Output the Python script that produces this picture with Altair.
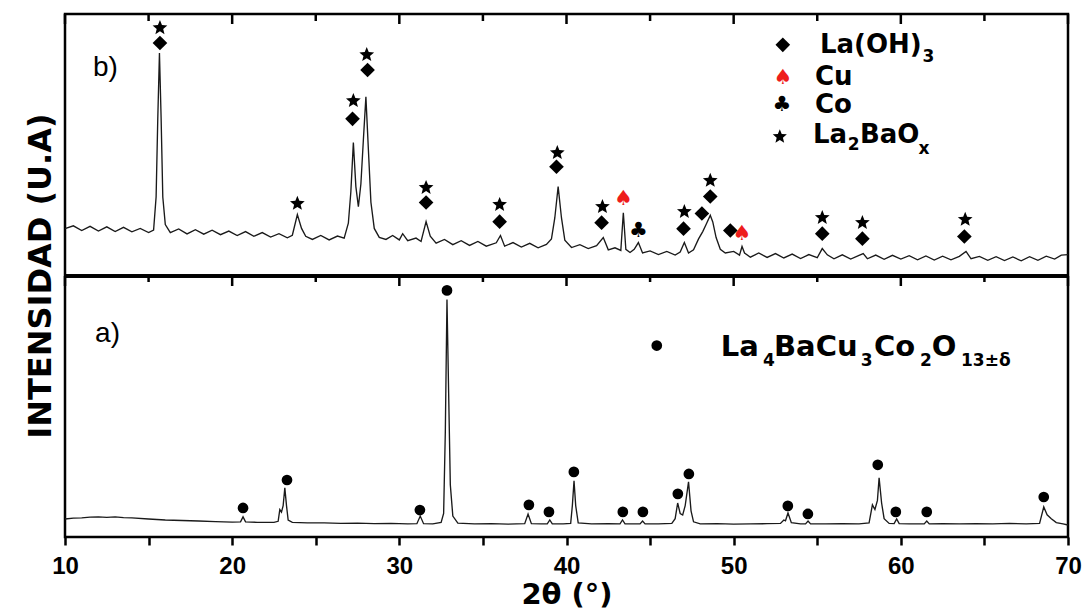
import altair as alt
import pandas as pd

# ---------------- data ----------------
# panel b) trace: 2theta (deg) and intensity (a.u., 0-100 inside panel b)
b_theta = [10.0, 10.5, 11.0, 11.5, 12.0, 12.5, 13.0, 13.5, 14.0, 14.5, 15.0, 15.3, 15.45, 15.55, 15.65,
           15.75, 15.85, 16.0, 16.3, 16.8, 17.3, 17.8, 18.3, 18.8, 19.3, 19.8, 20.3, 20.8, 21.3, 21.8,
           22.3, 22.8, 23.3, 23.6, 23.9, 24.15, 24.4, 24.8, 25.3, 25.8, 26.3, 26.7, 26.95, 27.1, 27.25,
           27.4, 27.55, 27.7, 27.85, 28.0, 28.15, 28.3, 28.5, 28.8, 29.2, 29.6, 30.0, 30.2, 30.5, 31.0,
           31.3, 31.6, 31.85, 32.2, 32.7, 33.2, 33.7, 34.2, 34.7, 35.2, 35.8, 36.05, 36.3, 36.8, 37.3,
           37.8, 38.3, 38.8, 39.1, 39.3, 39.5, 39.7, 39.9, 40.3, 40.8, 41.3, 41.8, 42.2, 42.5, 42.9,
           43.25, 43.4, 43.55, 43.8, 44.05, 44.3, 44.55, 45.0, 45.5, 46.0, 46.5, 46.8, 47.05, 47.3, 47.6,
           47.9, 48.15, 48.35, 48.6, 48.75, 48.95, 49.2, 49.5, 50.0, 50.35, 50.5, 50.65, 51.0, 51.5, 52.0,
           52.5, 53.0, 53.5, 54.0, 54.5, 55.0, 55.3, 55.6, 56.0, 56.5, 57.0, 57.5, 57.75, 58.0, 58.5,
           59.0, 59.5, 60.0, 60.5, 61.0, 61.5, 62.0, 62.5, 63.0, 63.5, 63.9, 64.2, 64.7, 65.2, 65.7,
           66.2, 66.7, 67.2, 67.7, 68.2, 68.7, 69.2, 69.6, 70.0]
b_int = [17.9, 19.0, 17.2, 18.8, 17.0, 18.6, 16.8, 18.4, 16.7, 18.0, 16.4, 17.4, 30.0, 60.0, 85.1,
         60.0, 30.0, 19.5, 16.4, 17.8, 15.9, 17.5, 15.8, 17.3, 15.6, 17.0, 15.3, 16.8, 15.0, 16.4,
         14.7, 16.0, 14.4, 15.4, 23.3, 18.0, 15.0, 13.8, 15.3, 13.6, 15.1, 14.3, 20.0, 32.0, 50.8,
         34.0, 26.3, 35.0, 52.0, 68.3, 48.0, 28.0, 18.0, 14.6, 13.8, 15.3, 13.6, 16.0, 13.3, 14.3,
         13.0, 20.6, 15.0, 12.4, 13.8, 11.8, 13.3, 11.5, 13.0, 11.2, 12.5, 15.3, 11.2, 12.6, 10.9,
         12.3, 10.6, 11.9, 14.0, 22.0, 34.0, 22.0, 13.5, 10.7, 11.8, 10.3, 11.4, 14.5, 9.8, 10.6,
         9.6, 24.0, 10.0, 8.8, 10.0, 12.6, 8.6, 9.4, 8.0, 9.2, 7.8, 9.0, 12.6, 8.6, 9.8,
         14.0, 16.8, 19.5, 23.0, 20.5, 14.5, 10.0, 8.6, 9.2, 7.8, 11.1, 8.6, 7.0, 8.6, 6.9,
         8.4, 6.7, 8.2, 6.5, 8.0, 6.8, 10.3, 7.9, 6.4, 7.9, 6.3, 7.7, 8.4, 6.4, 7.8,
         6.2, 7.7, 6.3, 7.6, 6.0, 7.5, 5.9, 7.4, 6.0, 7.3, 9.2, 6.4, 7.3, 5.8, 7.2,
         5.7, 7.1, 5.6, 7.2, 5.8, 7.4, 6.3, 7.8, 8.0]

# panel a) trace: 2theta (deg) and intensity (a.u., 0-100 inside panel a)
a_theta = [10.0, 10.5, 11.0, 11.5, 12.0, 12.5, 13.0, 13.5, 14.0, 15.0, 16.0, 17.0, 18.0, 19.0, 20.0,
           20.5, 20.65, 20.8, 21.5, 22.5, 22.75, 22.85, 22.95, 23.05, 23.15, 23.25, 23.35, 23.6, 24.5, 25.5,
           26.5, 27.5, 28.5, 29.5, 30.5, 31.05, 31.25, 31.45, 32.0, 32.5, 32.65, 32.75, 32.85, 32.95, 33.05,
           33.2, 33.5, 34.5, 35.5, 36.5, 37.5, 37.7, 37.9, 38.5, 38.85, 39.0, 39.15, 39.8, 40.25, 40.35,
           40.45, 40.55, 40.7, 41.5, 42.5, 43.2, 43.35, 43.5, 44.4, 44.55, 44.7, 45.5, 46.3, 46.5, 46.65,
           46.8, 46.95, 47.1, 47.3, 47.45, 47.6, 48.0, 49.0, 50.0, 51.0, 52.0, 52.8, 53.0, 53.1, 53.25,
           53.45, 54.0, 54.3, 54.45, 54.6, 55.5, 56.5, 57.5, 58.1, 58.3, 58.45, 58.6, 58.7, 58.85, 59.0,
           59.3, 59.6, 59.75, 59.9, 60.5, 61.4, 61.55, 61.7, 62.5, 63.5, 64.5, 65.5, 66.5, 67.5, 68.3,
           68.55, 68.75, 69.0, 69.3, 69.7, 70.0]
a_int = [6.9, 7.2, 7.3, 7.6, 7.7, 7.5, 7.7, 7.4, 7.3, 6.9, 6.5, 6.3, 6.1, 5.9, 5.7,
         5.8, 7.7, 5.8, 5.6, 5.6, 6.0, 10.5, 9.5, 12.0, 18.8, 12.0, 6.5, 5.6, 5.4, 5.4,
         5.2, 5.3, 5.1, 5.2, 5.0, 5.1, 8.0, 5.1, 5.0, 5.6, 9.0, 40.0, 90.8, 55.0, 20.0,
         8.0, 5.3, 5.0, 5.1, 4.9, 5.1, 8.8, 5.1, 5.0, 5.0, 6.5, 5.0, 5.0, 5.2, 12.0,
         21.5, 12.0, 5.4, 5.0, 5.1, 5.0, 6.5, 5.0, 5.0, 6.1, 5.0, 5.0, 5.2, 7.0, 13.0,
         9.0, 8.4, 12.0, 21.1, 10.0, 5.8, 5.0, 5.1, 4.9, 5.0, 5.1, 5.2, 6.5, 6.2, 9.2,
         5.5, 5.0, 5.0, 6.1, 5.0, 5.0, 5.1, 5.0, 5.4, 12.3, 10.5, 14.0, 22.6, 13.0, 7.0,
         5.2, 5.1, 6.9, 5.1, 5.0, 5.0, 6.1, 5.0, 5.1, 5.0, 5.1, 5.0, 5.2, 5.0, 5.2,
         11.5, 8.5, 7.0, 5.5, 5.0, 4.6]

# phase markers, panel a) (La4BaCu3Co2O13+-d, dots)
dot_theta = [20.65, 23.28, 31.23, 32.85, 37.75, 38.95, 40.44, 43.37, 44.57, 46.66, 47.32, 53.24,
             54.44, 58.62, 59.70, 61.55, 68.55]
dot_int = [11.1, 21.8, 10.3, 94.3, 12.3, 9.6, 24.9, 9.6, 9.6, 16.5, 24.1, 11.9,
           8.8, 27.6, 9.6, 9.6, 15.3]

# phase markers, panel b)
star_theta = [15.68, 23.9, 27.25, 28.05, 31.6, 36.0, 39.45, 42.15, 47.05, 48.6, 55.3, 57.7, 63.85]
star_int = [94.7, 27.5, 66.8, 84.4, 33.6, 27.1, 46.9, 26.3, 24.4, 36.3, 22.1, 20.2, 21.4]
diam_theta = [15.68, 27.2, 28.1, 31.6, 36.0, 39.4, 42.1, 47.0, 48.1, 48.6, 49.8, 55.3, 57.7, 63.8]
diam_int = [88.9, 59.9, 78.6, 27.9, 20.6, 41.6, 20.2, 17.9, 23.7, 30.2, 17.2, 16.0, 14.1, 14.9]
cu_theta = [43.4, 50.5]
cu_int = [29.4, 16.0]
co_theta = [44.3]
co_int = [17.2]

# legend of panel b): symbols (diamond, Cu, Co, star) and text segments
legb_sym_theta = [52.94, 52.94, 52.88, 52.76]
legb_sym_int = [88.2, 75.6, 65.3, 53.1]
legb_txt = ["La(OH)", "3", "Cu", "Co", "La", "2", "BaO", "x"]
legb_txt_theta = [55.16, 61.3, 54.86, 54.86, 54.74, 56.83, 57.55, 61.05]
legb_txt_int = [88.2, 83.6, 76.0, 65.3, 53.8, 50.0, 53.8, 48.5]
legb_txt_sub = [0, 1, 0, 0, 0, 1, 0, 1]

# legend of panel a)
lega_sym_theta = [45.4]
lega_sym_int = [73.2]
lega_txt = ["La", "4", "BaCu", "3", "Co", "2", "O", "13±δ"]
lega_txt_theta = [49.23, 51.75, 52.41, 57.6, 58.39, 61.15, 61.85, 63.6]
lega_txt_int = [72.8, 67.4, 72.8, 67.4, 72.8, 67.4, 72.8, 67.4]
lega_txt_sub = [0, 1, 0, 1, 0, 1, 0, 1]

panel_labels = ["b)", "a)"]
panel_label_theta = [11.67, 11.8]
panel_label_int = [79.4, 77.8]
panel_label_panel = ["b", "a"]

x_ticks = [10, 15, 20, 25, 30, 35, 40, 45, 50, 55, 60, 65, 70]

# ---------------- one long table ----------------
rows = []
def add(kind, panel, ts, ys, txts=None, subs=None):
    for k, (t, v) in enumerate(zip(ts, ys)):
        rows.append({"kind": kind, "panel": panel, "t": t, "i": v,
                     "txt": txts[k] if txts else "", "sub": subs[k] if subs else 0})

add("trace", "b", b_theta, b_int)
add("trace", "a", a_theta, a_int)
add("dot", "a", dot_theta + lega_sym_theta, dot_int + lega_sym_int)
add("star", "b", star_theta, star_int)
add("diamond", "b", diam_theta, diam_int)
add("cu", "b", cu_theta, cu_int)
add("co", "b", co_theta, co_int)
add("ldiamond", "b", [legb_sym_theta[0]], [legb_sym_int[0]])
add("cu", "b", [legb_sym_theta[1]], [legb_sym_int[1]])
add("co", "b", [legb_sym_theta[2]], [legb_sym_int[2]])
add("lstar", "b", [legb_sym_theta[3]], [legb_sym_int[3]])
add("text", "b", legb_txt_theta, legb_txt_int, legb_txt, legb_txt_sub)
add("text", "a", lega_txt_theta, lega_txt_int, lega_txt, lega_txt_sub)
add("plabel", panel_label_panel[0], [panel_label_theta[0]], [panel_label_int[0]], [panel_labels[0]])
add("plabel", panel_label_panel[1], [panel_label_theta[1]], [panel_label_int[1]], [panel_labels[1]])
for v in x_ticks:
    rows.append({"kind": "tick", "panel": "a", "t": v, "i": 0, "txt": "", "sub": 0})
df = pd.DataFrame(rows)

# ---------------- chart ----------------
W, H = 1003, 523
DIV = 262  # pixel row of the divider between the panels
STAR = ("M0,-1L0.26,-0.36L0.951,-0.309L0.42,0.14L0.588,0.809L0,0.44L-0.588,0.809"
        "L-0.42,0.14L-0.951,-0.309L-0.26,-0.36Z")

xs = alt.Scale(domain=[10, 70], nice=False, zero=False)
ys = alt.Scale(domain=[0, 200], nice=False, zero=False)

xaxis = alt.Axis(
    orient="bottom",
    values=x_ticks,
    labelExpr="datum.value % 10 == 0 ? datum.label : ''",
    ticks=True, tickSize=8, tickWidth=2.5, tickColor="black",
    domain=False, grid=False,
    labelFont="Liberation Sans", labelFontSize=24, labelFontWeight="bold", labelColor="black",
    labelPadding=9, labelFlush=False,
    title="2θ (°)", titleFont="DejaVu Sans", titleFontSize=29, titleFontWeight="bold",
    titleColor="black", titlePadding=2,
)
yaxis = alt.Axis(
    orient="left",
    domain=False, ticks=False, labels=False, grid=False,
    title="INTENSIDAD (U.A)", titleFont="DejaVu Sans", titleFontSize=32, titleFontWeight="bold",
    titleColor="black", titlePadding=8,
)

base = alt.Chart(df).transform_calculate(
    y="datum.panel == 'b' ? datum.i + 100 : datum.i"
)
X = alt.X("t:Q", scale=xs, axis=xaxis)
Y = alt.Y("y:Q", scale=ys, axis=yaxis)


def of(kind):
    return base.transform_filter(alt.datum.kind == kind)


lines = of("trace").mark_line(color="#1a1a1a", strokeWidth=1.35).encode(
    x=X, y=Y, detail="panel:N", order="t:Q")

dots = of("dot").mark_point(shape="circle", filled=True, color="black", size=115, opacity=1).encode(x=X, y=Y)
stars = of("star").mark_point(shape=STAR, filled=True, color="black", size=240, opacity=1).encode(x=X, y=Y)
diam = of("diamond").mark_point(shape="diamond", filled=True, color="black", size=215, opacity=1).encode(x=X, y=Y)
lstar = of("lstar").mark_point(shape=STAR, filled=True, color="black", size=220, opacity=1).encode(x=X, y=Y)
ldiam = of("ldiamond").mark_point(shape="diamond", filled=True, color="black", size=215, opacity=1).encode(x=X, y=Y)
cu = of("cu").mark_text(text="♠", font="DejaVu Sans", fontSize=21, color="#ee1c1c",
                        baseline="middle", align="center").encode(x=X, y=Y)
co = of("co").mark_text(text="♣", font="DejaVu Sans", fontSize=21, color="black",
                        baseline="middle", align="center").encode(x=X, y=Y)

main_b = of("text").transform_filter("datum.sub == 0 && datum.panel == 'b'").mark_text(
    font="DejaVu Sans", fontSize=26, fontWeight="bold", color="black", align="left",
    baseline="middle").encode(x=X, y=Y, text="txt:N")
main_a = of("text").transform_filter("datum.sub == 0 && datum.panel == 'a'").mark_text(
    font="DejaVu Sans", fontSize=29, fontWeight="bold", color="black", align="left",
    baseline="middle").encode(x=X, y=Y, text="txt:N")
sub_txt = of("text").transform_filter("datum.sub == 1").mark_text(
    font="DejaVu Sans", fontSize=17, fontWeight="bold", color="black", align="left",
    baseline="middle").encode(x=X, y=Y, text="txt:N")
plabels = of("plabel").mark_text(font="Liberation Sans", fontSize=28, color="black",
                                 align="left", baseline="middle").encode(x=X, y=Y, text="txt:N")

divider = of("tick").mark_rule(color="black", strokeWidth=2.5).encode(
    x=alt.value(0), x2=alt.value(W), y=alt.value(DIV))


def tick_rule(y0, length, major):
    flt = "datum.t % 10 == 0" if major else "datum.t % 10 != 0"
    return of("tick").transform_filter(flt).mark_rule(color="black", strokeWidth=2.5).encode(
        x=X, y=alt.value(y0), y2=alt.value(y0 + length))


ticks = [tick_rule(0, 10, True), tick_rule(0, 7, False),
         tick_rule(DIV, 10, True), tick_rule(DIV, 6, False)]

chart = alt.layer(
    lines, *ticks, divider, dots, stars, diam, cu, co,
    ldiam, lstar, main_b, main_a, sub_txt, plabels,
).properties(
    width=W, height=H,
    autosize=alt.AutoSizeParams(type="none"),
    padding={"left": 65, "top": 14, "right": 17, "bottom": 73},
    background="white",
).configure_view(stroke="black", strokeWidth=2.5)

chart.save("out.html", embed_options={"renderer": "svg", "actions": False})
